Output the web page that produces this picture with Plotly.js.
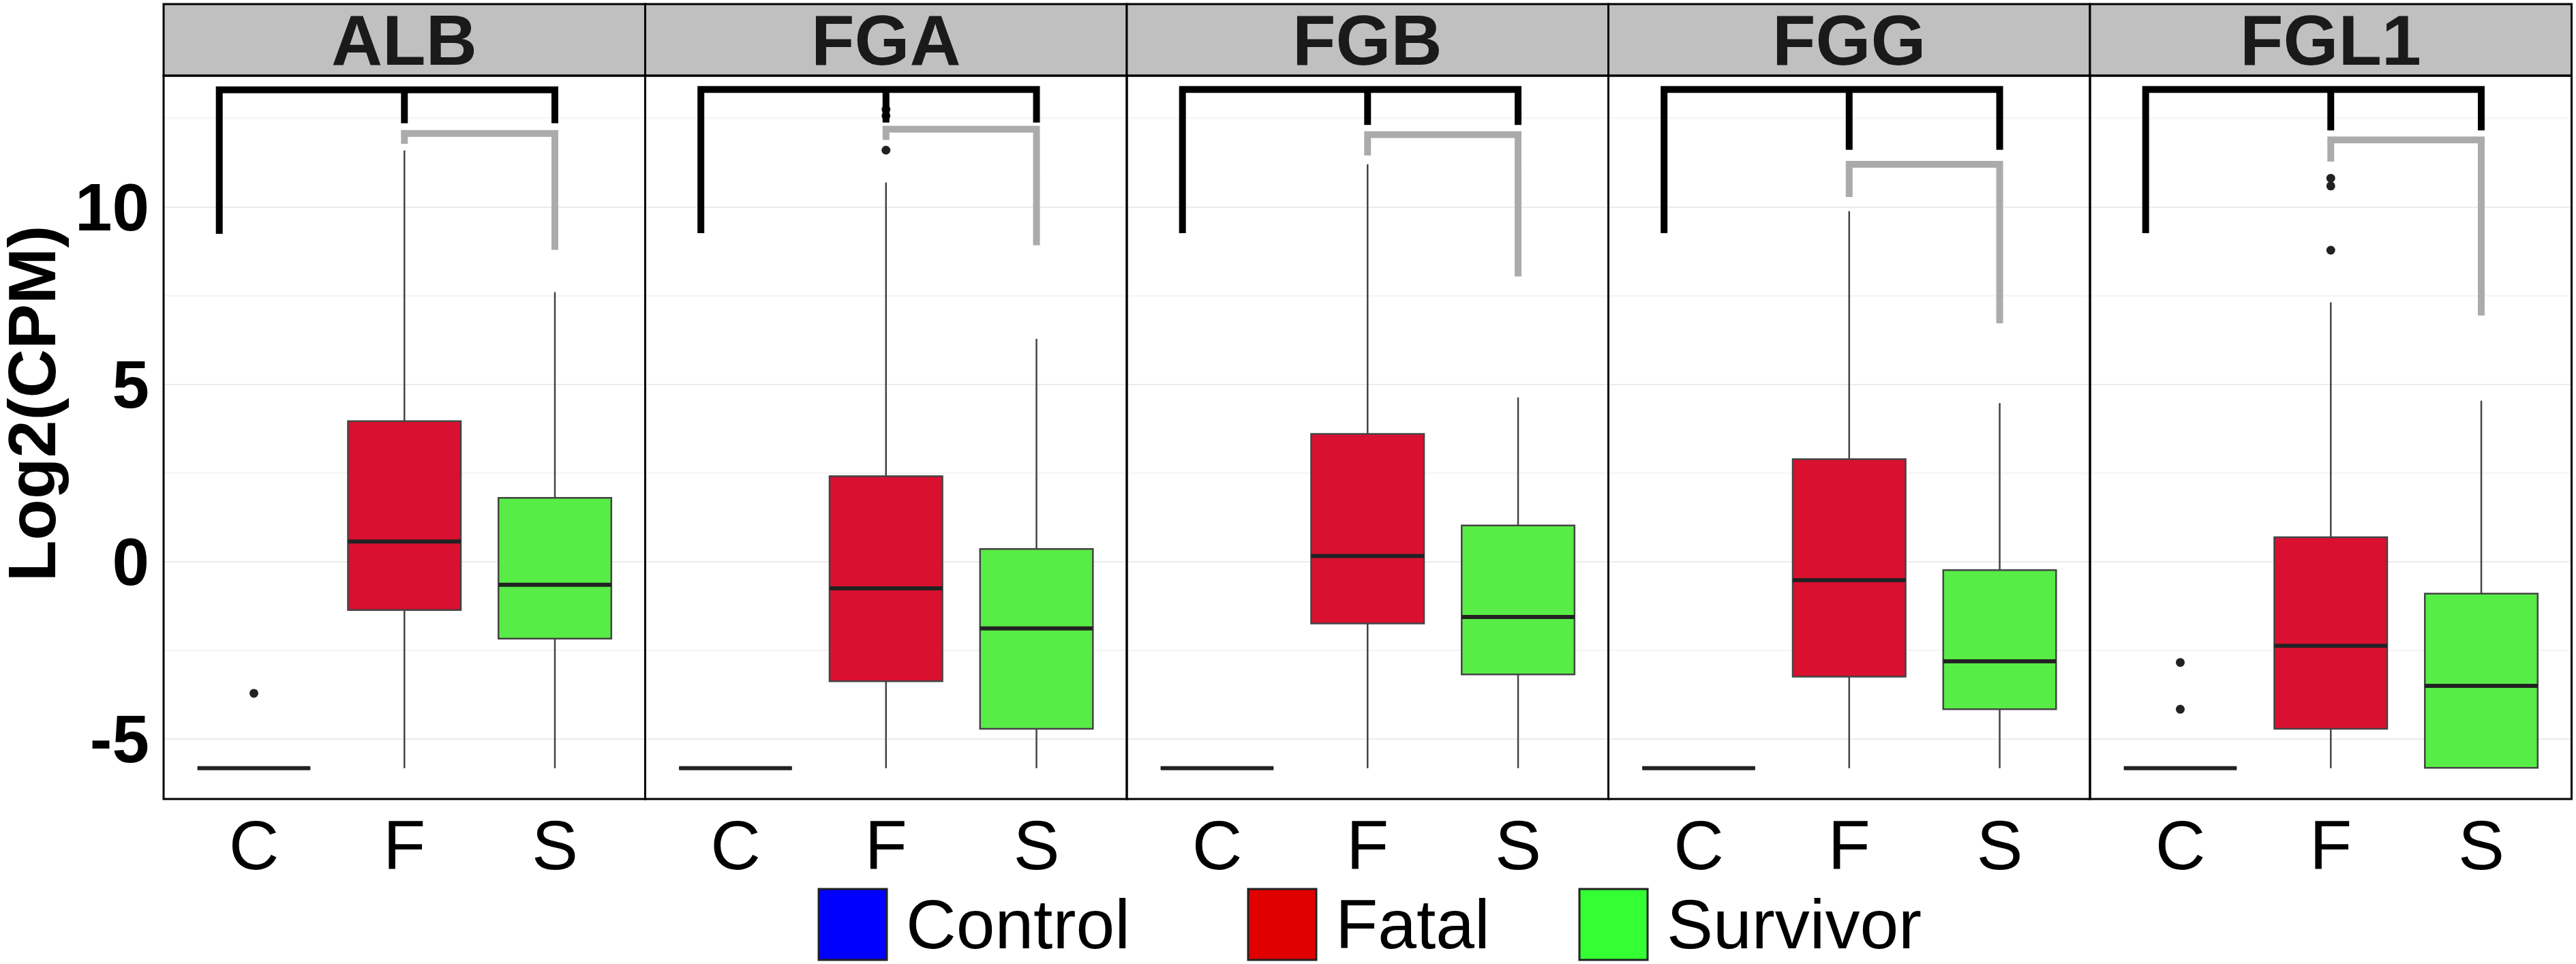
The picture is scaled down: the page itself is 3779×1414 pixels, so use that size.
<!DOCTYPE html>
<html>
<head>
<meta charset="utf-8">
<script src="https://cdn.plot.ly/plotly-3.0.1.min.js"></script>
<style>
  body { margin: 0; background: #fff; }
  #chart { width: 3779px; height: 1414px; }
</style>
</head>
<body>
<div id="chart"></div>
<script>
"use strict";

// genes (one panel each) and the groups on every x axis
var genes = ['ALB', 'FGA', 'FGB', 'FGG', 'FGL1'];
var groups = ['C', 'F', 'S'];
var groupNames = ['Control', 'Fatal', 'Survivor'];

// Control : all samples sit on the floor value
var controlLevel = [-5.82, -5.82, -5.82, -5.82, -5.82];
var controlOutliers = [[-3.71], [], [], [], [-2.84, -4.16]];

// Fatal
var fatalLower = [-5.82, -5.82, -5.82, -5.82, -5.82];
var fatalQ1 = [-1.36, -3.37, -1.74, -3.24, -4.71];
var fatalMedian = [0.57, -0.75, 0.16, -0.52, -2.37];
var fatalQ3 = [3.96, 2.41, 3.60, 2.89, 0.69];
var fatalUpper = [11.59, 10.69, 11.20, 9.88, 7.31];
var fatalOutliers = [[], [12.75, 12.57, 11.60], [], [], [10.81, 10.59, 8.78]];

// Survivor
var survLower = [-5.82, -5.82, -5.82, -5.82, -5.82];
var survQ1 = [-2.17, -4.71, -3.18, -4.16, -5.81];
var survMedian = [-0.65, -1.88, -1.56, -2.81, -3.50];
var survQ3 = [1.80, 0.36, 1.02, -0.24, -0.90];
var survUpper = [7.60, 6.28, 4.63, 4.47, 4.54];

// significance brackets (black : C / F / S, gray : F vs S)
var blackTop = [13.30, 13.31, 13.31, 13.31, 13.31];
var blackControlEnd = [9.24, 9.26, 9.26, 9.26, 9.26];
var blackTickEnd = [12.36, 12.38, 12.31, 11.61, 12.16];
var grayTop = [12.07, 12.19, 12.04, 11.20, 11.89];
var grayFatalEnd = [11.78, 11.89, 11.45, 10.28, 11.28];
var graySurvEnd = [8.79, 8.92, 8.04, 6.72, 6.94];

// styles
var boxFill = ['#0000FF', '#DA1030', '#58EC46'];
var legendFill = ['#0000FF', '#E00000', '#33FF33'];
var fontMain = "'Liberation Sans', Arial, sans-serif";
var fontNarrow = "'Liberation Sans Narrow', 'Arial Narrow', 'Liberation Sans', Arial, sans-serif";

// pixel geometry of the page
var W = 3779, H = 1414;
var panelLeft = 240, panelWidth = 706.5;
var stripTop = 6, plotTop = 111, plotBottom = 1172;
var boxWidth = 0.75;
var bracketLeftX = -0.23;

function px(x) { return x / W; }
function py(y) { return 1 - y / H; }
function axisName(i) { return i === 0 ? 'x' : 'x' + (i + 1); }

var traces = [];
var shapes = [];
var annotations = [];
var layout = {
  width: W, height: H,
  margin: {l: 0, r: 0, t: 0, b: 0},
  paper_bgcolor: '#fff', plot_bgcolor: '#fff',
  showlegend: false, hovermode: false
};

function boxTrace(xa, pos, lower, q1, med, q3, upper, fill) {
  return {
    type: 'box', xaxis: xa, yaxis: 'y',
    x: [pos], lowerfence: [lower], q1: [q1], median: [med], q3: [q3], upperfence: [upper],
    width: boxWidth, whiskerwidth: 0, boxpoints: false,
    fillcolor: fill, line: {color: '#444444', width: 2.5},
    hoverinfo: 'skip', showlegend: false
  };
}

genes.forEach(function (gene, i) {
  var xa = axisName(i);

  // boxes
  traces.push(boxTrace(xa, 0, controlLevel[i], controlLevel[i], controlLevel[i], controlLevel[i], controlLevel[i], boxFill[0]));
  traces.push(boxTrace(xa, 1, fatalLower[i], fatalQ1[i], fatalMedian[i], fatalQ3[i], fatalUpper[i], boxFill[1]));
  traces.push(boxTrace(xa, 2, survLower[i], survQ1[i], survMedian[i], survQ3[i], survUpper[i], boxFill[2]));

  // thicker median bars on top of the boxes
  var meds = [controlLevel[i], fatalMedian[i], survMedian[i]];
  var mx = [], my = [];
  meds.forEach(function (m, g) {
    mx.push(g - boxWidth / 2, g + boxWidth / 2, null);
    my.push(m, m, null);
  });
  traces.push({
    type: 'scatter', mode: 'lines', xaxis: xa, yaxis: 'y',
    x: mx, y: my, line: {color: '#222222', width: 6},
    hoverinfo: 'skip', showlegend: false
  });

  // outlier points
  var ox = [], oy = [];
  controlOutliers[i].forEach(function (v) { ox.push(0); oy.push(v); });
  fatalOutliers[i].forEach(function (v) { ox.push(1); oy.push(v); });
  traces.push({
    type: 'scatter', mode: 'markers', xaxis: xa, yaxis: 'y',
    x: ox, y: oy, marker: {color: '#222222', size: 13},
    hoverinfo: 'skip', showlegend: false
  });

  // black bracket C - F - S
  traces.push({
    type: 'scatter', mode: 'lines', xaxis: xa, yaxis: 'y',
    x: [bracketLeftX, bracketLeftX, 2, 2, null, 1, 1],
    y: [blackControlEnd[i], blackTop[i], blackTop[i], blackTickEnd[i], null, blackTop[i], blackTickEnd[i]],
    line: {color: '#000000', width: 10},
    hoverinfo: 'skip', showlegend: false
  });
  // gray bracket F - S
  traces.push({
    type: 'scatter', mode: 'lines', xaxis: xa, yaxis: 'y',
    x: [1, 1, 2, 2],
    y: [grayFatalEnd[i], grayTop[i], grayTop[i], graySurvEnd[i]],
    line: {color: '#ABABAB', width: 10},
    hoverinfo: 'skip', showlegend: false
  });

  var x0 = panelLeft + i * panelWidth;
  var x1 = x0 + panelWidth;
  layout[i === 0 ? 'xaxis' : 'xaxis' + (i + 1)] = {
    domain: [px(x0), px(x1)], anchor: 'y',
    range: [-0.6, 2.6], fixedrange: true,
    tickmode: 'array', tickvals: [0, 1, 2], ticktext: groups,
    ticks: '', showgrid: false, zeroline: false, showline: false,
    ticklabelstandoff: 0,
    tickfont: {family: fontNarrow, size: 102, color: '#000'}
  };

  // strip with the gene name
  shapes.push({
    type: 'rect', xref: 'paper', yref: 'paper',
    x0: px(x0), x1: px(x1), y0: py(plotTop), y1: py(stripTop),
    fillcolor: '#C0C0C0', line: {color: '#000', width: 3}
  });
  annotations.push({
    xref: 'paper', yref: 'paper', x: px((x0 + x1) / 2), y: py(59),
    xanchor: 'center', yanchor: 'middle', showarrow: false,
    text: gene, font: {family: fontMain, size: 104, color: '#1a1a1a', weight: 'bold'}
  });
  // panel frame
  shapes.push({
    type: 'rect', xref: 'paper', yref: 'paper', layer: 'above',
    x0: px(x0), x1: px(x1), y0: py(plotBottom), y1: py(plotTop),
    line: {color: '#000', width: 3}
  });
});

layout.yaxis = {
  domain: [py(plotBottom), py(plotTop)], anchor: 'x',
  range: [-6.69, 13.70], fixedrange: true,
  tickmode: 'array', tickvals: [-5, 0, 5, 10], ticktext: ['-5', '0', '5', '10'],
  ticks: '', zeroline: false, showline: false,
  showgrid: true, gridcolor: '#EBEBEB', gridwidth: 2,
  minor: {tickmode: 'array', tickvals: [-2.5, 2.5, 7.5, 12.5], showgrid: true, gridcolor: '#F3F3F3', gridwidth: 2, ticks: ''},
  ticklabelstandoff: 20,
  tickfont: {family: fontMain, size: 98, color: '#000', weight: 'bold'}
};

// y axis title
annotations.push({
  xref: 'paper', yref: 'paper', x: px(46), y: py(592),
  xanchor: 'center', yanchor: 'middle', textangle: -90, showarrow: false,
  text: 'Log2(CPM)', font: {family: fontMain, size: 99, color: '#000', weight: 'bold'}
});

// legend drawn by hand so the keys can be as large as in the figure
var legendKeyX = [1201, 1831, 2317];
groupNames.forEach(function (name, g) {
  shapes.push({
    type: 'rect', xref: 'paper', yref: 'paper',
    x0: px(legendKeyX[g]), x1: px(legendKeyX[g] + 100), y0: py(1408), y1: py(1304),
    fillcolor: legendFill[g], line: {color: '#222', width: 3}
  });
  annotations.push({
    xref: 'paper', yref: 'paper', x: px(legendKeyX[g] + 126), y: py(1356),
    xanchor: 'left', yanchor: 'middle', showarrow: false,
    text: name, font: {family: fontMain, size: 102, color: '#000'}
  });
});

layout.shapes = shapes;
layout.annotations = annotations;

Plotly.newPlot('chart', traces, layout, {displayModeBar: false, staticPlot: true});
</script>
</body>
</html>
